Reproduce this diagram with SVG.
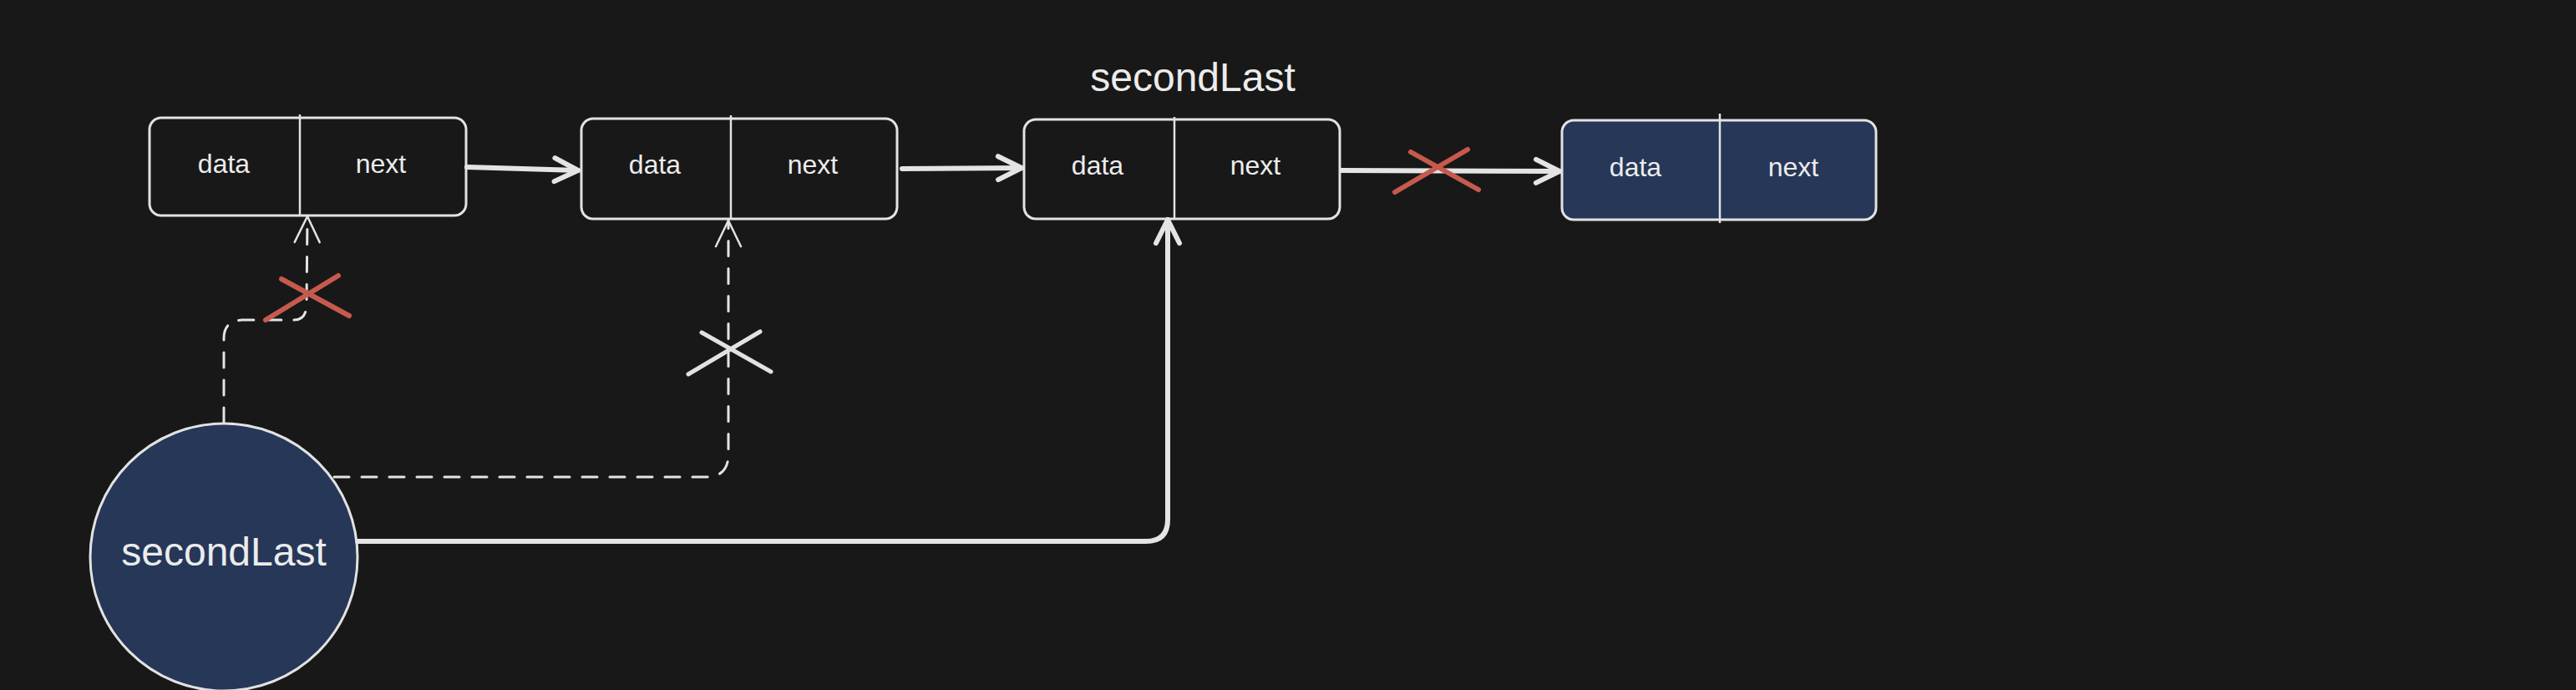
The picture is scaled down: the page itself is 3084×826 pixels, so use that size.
<svg xmlns="http://www.w3.org/2000/svg" width="3084" height="826" viewBox="0 0 3084 826">
<style>
.bg{fill:#181818}
.box{fill:#181818;stroke:#e2e2e2;stroke-width:3}
.box.blue{fill:#263758}
.div{stroke:#e2e2e2;stroke-width:2.5}
.t{font-family:"Liberation Sans",Arial,sans-serif;fill:#ececec;text-anchor:middle}
.s{font-size:32px}
.l{font-size:48px}
.conn{fill:none;stroke:#e4e4e4;stroke-linecap:round;stroke-linejoin:round}
.thick{stroke-width:6}
.dash{stroke-width:3;stroke-dasharray:18 15}
.xr{stroke:#c65a4d;stroke-width:6;stroke-linecap:round}
.xw{stroke:#e2e2e2;stroke-width:5;stroke-linecap:round}
</style>
<defs>
<marker id="ah" markerUnits="userSpaceOnUse" orient="auto" refX="0" refY="0" markerWidth="40" markerHeight="40" viewBox="-36 -20 40 40" overflow="visible">
<path d="M -28 -14 L 0 0 L -28 14" fill="none" stroke="#e4e4e4" stroke-width="6" stroke-linecap="round" stroke-linejoin="round"/>
</marker>
<marker id="ahThin" markerUnits="userSpaceOnUse" orient="auto" refX="0" refY="0" markerWidth="40" markerHeight="40" viewBox="-36 -20 40 40" overflow="visible">
<path d="M -31 -15 L 0 0 L -31 15" fill="none" stroke="#e2e2e2" stroke-width="2.5" stroke-linecap="round" stroke-linejoin="round"/>
</marker>
</defs>
<rect class="bg" x="0" y="0" width="3084" height="826"/>

<g id="node1">
<rect class="box" x="179" y="141" width="379" height="117" rx="14"/>
<line class="div" x1="359" y1="137" x2="359" y2="259"/>
<text class="t s" x="268" y="207">data</text>
<text class="t s" x="456" y="207">next</text>
</g>

<g id="node2">
<rect class="box" x="696" y="142" width="378" height="120" rx="14"/>
<line class="div" x1="875" y1="138" x2="875" y2="262"/>
<text class="t s" x="784" y="208">data</text>
<text class="t s" x="973" y="208">next</text>
</g>

<g id="node3">
<rect class="box" x="1226" y="143" width="378" height="119" rx="14"/>
<line class="div" x1="1406" y1="140" x2="1406" y2="263"/>
<text class="t s" x="1314" y="209">data</text>
<text class="t s" x="1503" y="209">next</text>
</g>

<g id="label-secondLast">
<text class="t l" x="1428" y="109">secondLast</text>
</g>

<g id="node4">
<rect class="box blue" x="1870" y="144" width="376" height="119" rx="14"/>
<line class="div" x1="2059" y1="136" x2="2059" y2="267"/>
<text class="t s" x="1958" y="211">data</text>
<text class="t s" x="2147" y="211">next</text>
</g>

<g id="pointer">
<circle cx="268" cy="667" r="160" fill="#263758" stroke="#e2e2e2" stroke-width="3"/>
<text class="t l" x="268" y="677">secondLast</text>
</g>

<g id="connectors">
<path class="conn thick" d="M 559 200 L 692 204" marker-end="url(#ah)"/>
<path class="conn thick" d="M 1080 202 L 1223 201" marker-end="url(#ah)"/>
<path class="conn thick" d="M 1606 204 L 1867 205" marker-end="url(#ah)"/>
<path class="conn thick" d="M 428 648 L 1372 648 Q 1398 648 1398 622 L 1398 263" marker-end="url(#ah)"/>
<path class="conn dash" d="M 268 506 L 268 405 Q 268 384 290 383 L 352 383 Q 366 383 367 366 L 368 259" marker-end="url(#ahThin)"/>
<path class="conn dash" d="M 400 571 L 845 571 Q 872 571 872 544 L 872 264" marker-end="url(#ahThin)"/>
</g>

<g id="crosses">
<line class="xr" x1="337" y1="334" x2="418" y2="378"/>
<line class="xr" x1="405" y1="330" x2="318" y2="383"/>
<line class="xw" x1="840" y1="398" x2="923" y2="445"/>
<line class="xw" x1="910" y1="397" x2="824" y2="448"/>
<line class="xr" x1="1689" y1="182" x2="1770" y2="227"/>
<line class="xr" x1="1757" y1="179" x2="1670" y2="230"/>
</g>
</svg>
